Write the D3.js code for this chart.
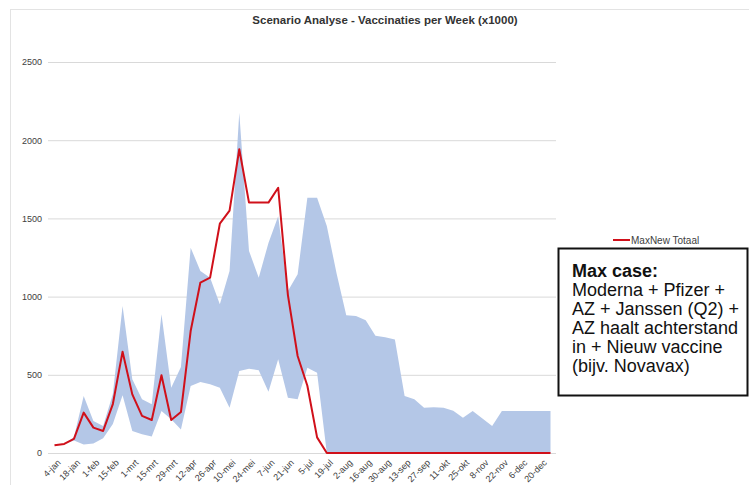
<!DOCTYPE html>
<html lang="nl">
<head>
    <meta charset="UTF-8">
    <title>Scenario Analyse - Vaccinaties per Week</title>
    <script src="https://d3js.org/d3.v7.min.js"></script>
    <style>
        body { margin: 0; background: #fff; }
        svg { display: block; font-family: "Liberation Sans", Arial, sans-serif; }
    </style>
</head>
<body>
<svg width="749" height="485"></svg>

<script>
    // weeks (maandag) 2021
    const weeks = ["4-jan", "11-jan", "18-jan", "25-jan", "1-feb", "8-feb", "15-feb", "22-feb",
        "1-mrt", "8-mrt", "15-mrt", "22-mrt", "29-mrt", "5-apr", "12-apr", "19-apr", "26-apr",
        "3-mei", "10-mei", "17-mei", "24-mei", "31-mei", "7-jun", "14-jun", "21-jun", "28-jun",
        "5-jul", "12-jul", "19-jul", "26-jul", "2-aug", "9-aug", "16-aug", "23-aug", "30-aug",
        "6-sep", "13-sep", "20-sep", "27-sep", "4-okt", "11-okt", "18-okt", "25-okt", "1-nov",
        "8-nov", "15-nov", "22-nov", "29-nov", "6-dec", "13-dec", "20-dec", "27-dec"];

    // MaxNew Totaal (x1000)
    const maxNew = [50, 58, 90, 258, 162, 141, 313, 648, 375, 237, 211, 497, 211, 262, 780, 1090,
        1121, 1466, 1550, 1942, 1601, 1601, 1601, 1696, 1010, 620, 430, 100, 0, 0, 0, 0, 0, 0, 0,
        0, 0, 0, 0, 0, 0, 0, 0, 0, 0, 0, 0, 0, 0, 0, 0, 0];

    // bandbreedte scenario's (onder / boven)
    const bandLow = [50, 58, 80, 55, 60, 95, 185, 370, 141, 120, 105, 269, 215, 151, 428, 454,
        439, 418, 290, 524, 539, 529, 392, 599, 354, 343, 545, 513, 0, 0, 0, 0, 0, 0, 0,
        0, 0, 0, 0, 0, 0, 0, 0, 0, 0, 0, 0, 0, 0, 0, 0, 0];
    const bandHigh = [50, 58, 100, 364, 205, 173, 377, 940, 471, 343, 311, 887, 418, 550, 1313, 1164,
        1121, 951, 1164, 2176, 1292, 1121, 1343, 1513, 1036, 1143, 1632, 1632, 1451, 1150, 880, 876,
        848, 750, 740, 725, 364, 343, 290, 292, 290, 270, 226, 269, 221, 173, 269, 269, 269, 269, 269, 269];

    const yTicks = [0, 500, 1000, 1500, 2000, 2500];
    const legendLabel = "MaxNew Totaal";
    const noteLines = ["Max case:", "Moderna + Pfizer +", "AZ + Janssen (Q2) +",
        "AZ haalt achterstand", "in + Nieuw vaccine", "(bijv. Novavax)"];

    const svg = d3.select("svg");

    const plotLeft = 48, plotRight = 556;
    const x = d3.scalePoint().domain(weeks).range([54.5, 550.5]);
    const y = d3.scaleLinear().domain([0, 2500]).range([453, 62]);

    // kader
    svg.append("rect")
        .attr("x", 10.5).attr("y", 9.5)
        .attr("width", 760).attr("height", 500)
        .attr("fill", "none")
        .attr("stroke", "#e3e3e3");

    // titel
    svg.append("text")
        .attr("x", 385).attr("y", 24)
        .attr("text-anchor", "middle")
        .attr("font-size", 11.5)
        .attr("font-weight", "bold")
        .attr("fill", "#333")
        .text("Scenario Analyse - Vaccinaties per Week (x1000)");

    // y-as met rasterlijnen
    const yAxis = svg.append("g")
        .attr("transform", `translate(${plotLeft},0)`)
        .call(d3.axisLeft(y).tickValues(yTicks).tickFormat(d3.format("d"))
            .tickSize(-(plotRight - plotLeft)).tickPadding(6));
    yAxis.select(".domain").remove();
    yAxis.selectAll(".tick line").attr("stroke", "#d9d9d9");
    yAxis.selectAll(".tick text")
        .attr("font-size", 9)
        .attr("fill", "#404040")
        .style("font-family", "inherit");

    // band
    const band = d3.area()
        .x((d, i) => x(weeks[i]))
        .y0((d, i) => y(bandLow[i]))
        .y1((d, i) => y(bandHigh[i]));
    svg.append("path")
        .datum(weeks)
        .attr("d", band)
        .attr("fill", "#b4c7e7");

    // lijn
    const line = d3.line()
        .x((d, i) => x(weeks[i]))
        .y(d => y(d));
    svg.append("path")
        .datum(maxNew)
        .attr("d", line)
        .attr("fill", "none")
        .attr("stroke", "#d0101a")
        .attr("stroke-width", 2)
        .attr("stroke-linejoin", "round");

    // x-as labels
    const xAxis = svg.append("g")
        .attr("transform", `translate(0,${y(0)})`)
        .call(d3.axisBottom(x).tickValues(weeks.filter((d, i) => i % 2 === 0)).tickSize(0));
    xAxis.select(".domain").remove();
    xAxis.selectAll(".tick text")
        .attr("x", 0).attr("y", 0).attr("dy", "0.35em")
        .attr("text-anchor", "end")
        .attr("transform", "translate(4,8) rotate(-45)")
        .attr("font-size", 9)
        .attr("fill", "#404040")
        .style("font-family", "inherit");

    // legenda
    const legend = svg.append("g").attr("transform", "translate(613,240)");
    legend.append("line")
        .attr("x1", 0).attr("x2", 17)
        .attr("stroke", "#d0101a").attr("stroke-width", 2);
    legend.append("text")
        .attr("x", 18).attr("dy", "0.35em")
        .attr("font-size", 10)
        .attr("fill", "#404040")
        .text(legendLabel);

    // tekstvak
    svg.append("rect")
        .attr("x", 558.5).attr("y", 248.5)
        .attr("width", 189).attr("height", 147)
        .attr("fill", "#fff")
        .attr("stroke", "#111")
        .attr("stroke-width", 2);
    svg.append("g").selectAll("text")
        .data(noteLines)
        .join("text")
        .attr("x", 572)
        .attr("y", (d, i) => 277 + i * 19)
        .attr("font-size", 18)
        .attr("font-weight", (d, i) => i === 0 ? "bold" : "normal")
        .attr("fill", "#111")
        .text(d => d);
</script>
</body>
</html>
